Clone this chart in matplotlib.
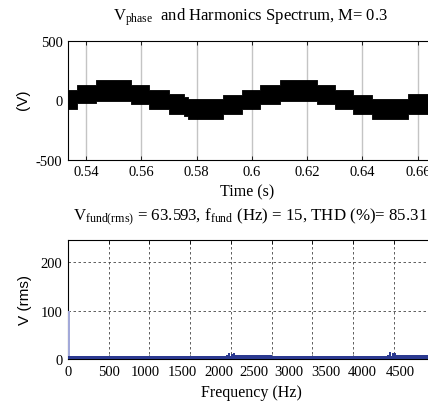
import matplotlib
matplotlib.use("Agg")
import matplotlib.pyplot as plt
import numpy as np
from matplotlib.ticker import FixedLocator, FuncFormatter, MultipleLocator

# ---- phase voltage (multilevel PWM band) ----
t_edges = [0.5335, 0.5367, 0.5436, 0.5563, 0.5628, 0.5700, 0.5755, 0.5769,
           0.5896, 0.5964, 0.6029, 0.6102, 0.6236, 0.6301, 0.6366, 0.6434,
           0.6565, 0.6637]
t_end = 0.681
v_upper = [87, 130, 169, 130, 87, 51, 25, 14, 42, 87, 130, 169, 130, 87, 42,
           14, 51, 87]
v_lower = [-76, -25, -6, -28, -76, -113, -136, -161, -119, -76, -34, -6,
           -28, -76, -119, -161, -113, -76]

# ---- harmonic spectrum ----
fund_hz = [15]
fund_v = [100]
floor_edges_hz = [0, 2000, 2500, 4025, 5000]
floor_v = [6, 9, 6, 9]
sb_hz = [1950, 1980, 2010, 2040, 2070, 3930, 3960, 3990, 4020, 4050]
sb_v = [8, 12, 10, 12, 7, 9, 14, 12, 13, 8]

# labels in the source figure sit on a tighter pitch than its grid
freq_tick_pos = [0, 504, 955, 1400, 1855, 2285, 2715, 3166, 3612, 4087]
freq_tick_lbl = ["0", "500", "1000", "1500", "2000", "2500", "3000", "3500",
                 "4000", "4500"]

W, H = 428, 402
plt.rcParams["font.family"] = "Liberation Serif"
plt.rcParams["mathtext.fontset"] = "custom"
plt.rcParams["mathtext.rm"] = "Liberation Serif"
plt.rcParams["axes.unicode_minus"] = False

fig = plt.figure(figsize=(W / 100, H / 100), dpi=100)


def px_axes(left, top, right, bottom):
    return fig.add_axes([left / W, 1 - bottom / H, (right - left) / W,
                         (bottom - top) / H])


navy = "#2b3990"
tick_fs = 10.5

# top panel
ax1 = px_axes(68, 42, 475, 160.5)
t = np.array(t_edges + [t_end])
up = np.array(v_upper + [v_upper[-1]])
lo = np.array(v_lower + [v_lower[-1]])
ax1.fill_between(t, lo, up, step="post", color="black", lw=0.6,
                 edgecolor="black", zorder=3)
ax1.set_xlim(0.5335, 0.5335 + 407 / 2765)
ax1.set_ylim(-500, 500)
ax1.xaxis.set_major_locator(MultipleLocator(0.02))
ax1.xaxis.set_major_formatter(FuncFormatter(lambda v, p: "%g" % round(v, 2)))
ax1.set_yticks([-500, 0, 500])
ax1.grid(axis="x", color="#c4c4c4", lw=1.0, zorder=1)
ax1.tick_params(direction="in", length=3, top=True, right=True,
                labelsize=tick_fs, width=0.6)
ax1.tick_params(axis="x", pad=4)
ax1.tick_params(axis="y", pad=4)

# bottom panel
ax2 = px_axes(68, 241, 475, 360)
ax2.bar(fund_hz, fund_v, width=30, color="#a3a9d9", lw=0, zorder=3)
fe = np.array(floor_edges_hz)
fv = np.array(floor_v + [floor_v[-1]])
ax2.fill_between(fe, 0, fv, step="post", color=navy, lw=0, zorder=3)
ax2.bar(sb_hz, sb_v, width=26, color=navy, lw=0, zorder=3)
ax2.set_xlim(0, 5000)
ax2.set_ylim(0, 246)
ax2.xaxis.set_major_locator(FixedLocator(freq_tick_pos))
ax2.set_xticklabels(freq_tick_lbl)
ax2.xaxis.set_minor_locator(MultipleLocator(500))
ax2.set_yticks([0, 100, 200])
ax2.grid(which="minor", axis="x", color="#444444", lw=0.6, ls=(0, (3, 3)))
ax2.grid(which="major", axis="y", color="#444444", lw=0.6, ls=(0, (3, 3)))
ax2.tick_params(direction="in", length=0, labelsize=tick_fs)
ax2.tick_params(which="minor", direction="in", length=3, top=True)
ax2.tick_params(axis="x", pad=4)
ax2.tick_params(axis="y", pad=4)

for ax in (ax1, ax2):
    for s in ax.spines.values():
        s.set_linewidth(0.8)

# texts
fig.text(251 / W, 1 - 17 / H,
         r"$\mathregular{V_{phase}}$  and Harmonics Spectrum, M= 0.3",
         ha="center", va="center", fontsize=12)
fig.text(247 / W, 1 - 192 / H, "Time (s)", ha="center", va="center",
         fontsize=11.5)
fig.text(73 / W, 1 - 217 / H,
         r"$\mathregular{V_{fund(rms)}}$ = 63.593, $\mathregular{f_{fund}}$"
         r" (Hz) = 15, THD (%)= 85.31",
         ha="left", va="center", fontsize=12.2)
fig.text(251 / W, 1 - 393 / H, "Frequency (Hz)", ha="center", va="center",
         fontsize=11.5)
fig.text(23 / W, 1 - 100 / H, "(V)", rotation=90, ha="center", va="center",
         fontsize=11, family="Liberation Sans")
fig.text(25 / W, 1 - 300 / H, "V (rms)", rotation=90, ha="center",
         va="center", fontsize=11, family="Liberation Sans")

fig.savefig("out.png", dpi=100)
